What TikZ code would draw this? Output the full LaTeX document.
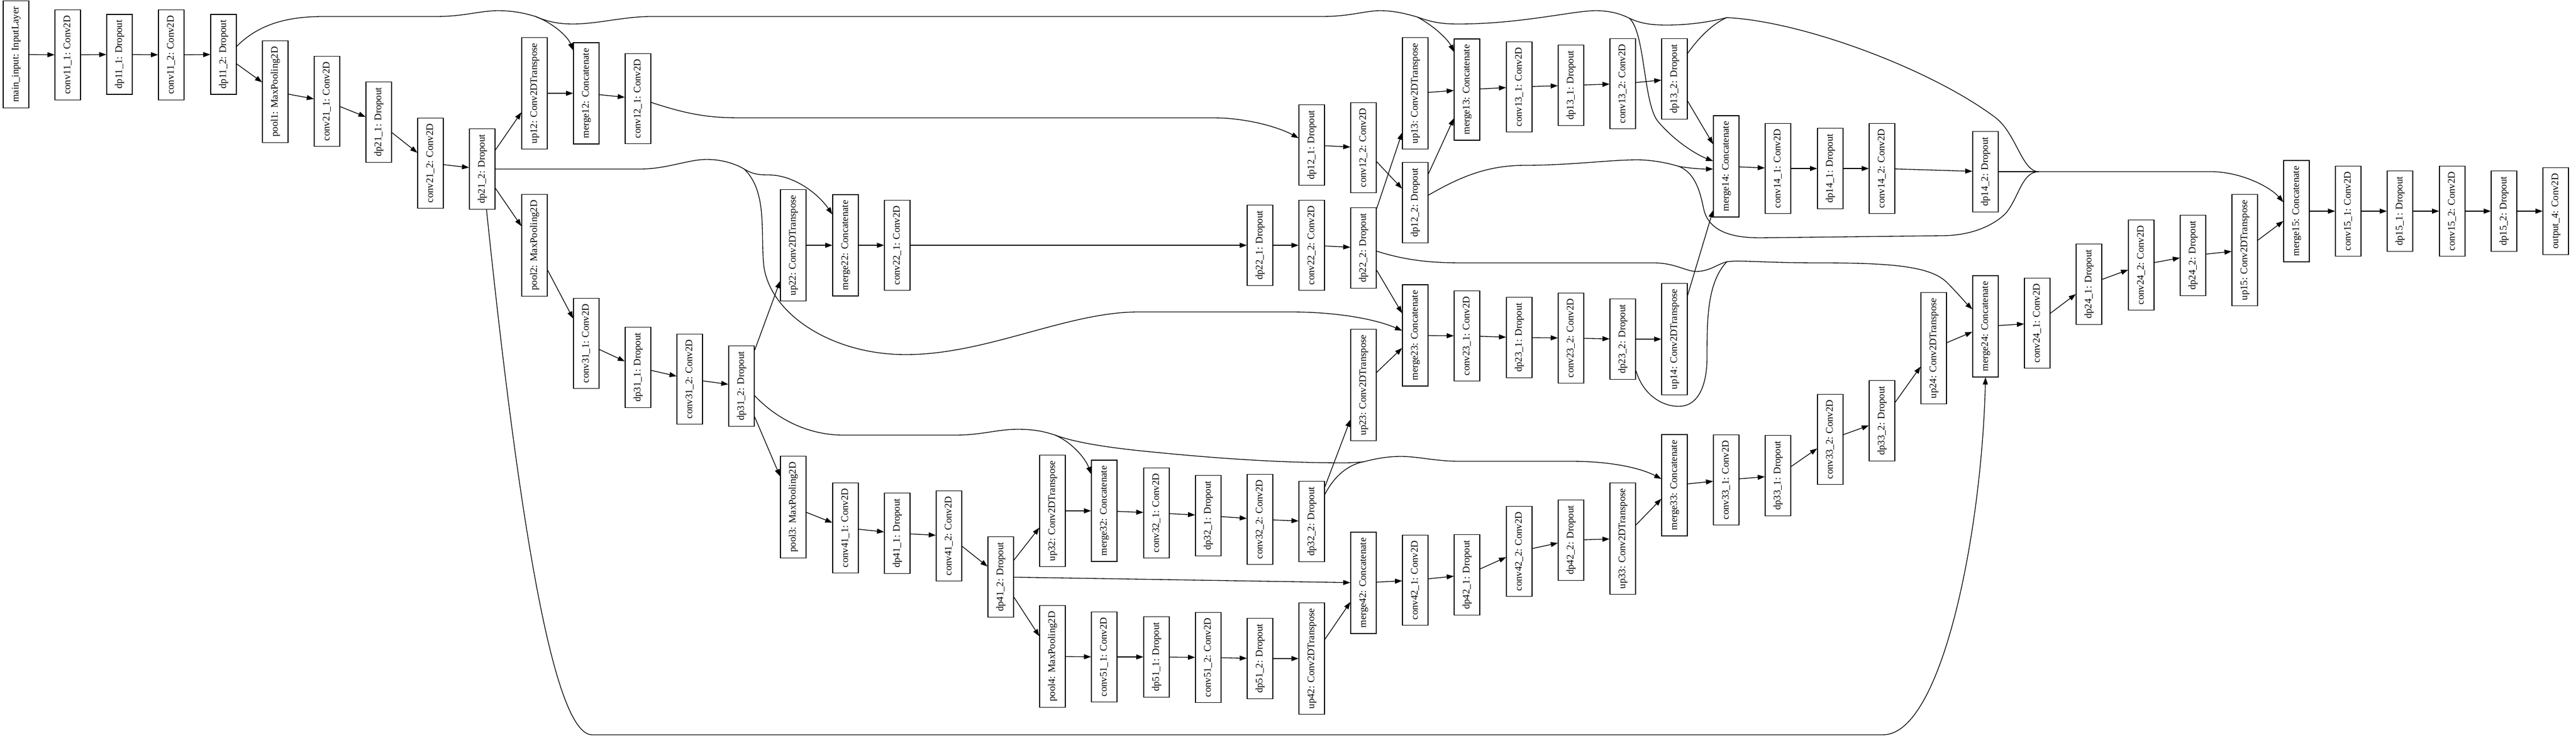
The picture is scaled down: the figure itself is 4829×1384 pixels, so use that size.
\documentclass[tikz,border=0pt]{standalone}
\usepackage{fontspec}
\setmainfont{Liberation Serif}
\usepackage{graphicx}
\usetikzlibrary{calc}
\usetikzlibrary{arrows.meta}
\newcommand{\vt}[1]{\rotatebox{90}{\strut #1}}
\tikzset{
	layer/.style={draw, line width=1pt, minimum width=36pt, inner xsep=0pt, inner ysep=8pt, font=\fontsize{14}{17}\selectfont},
	flow/.style={line width=1pt, -{Triangle[length=10pt,width=7pt]}},
	trunk/.style={line width=1pt},
}

\begin{document}
\begin{tikzpicture}[x=0.75pt,y=-0.75pt]
		\useasboundingbox (0,0) rectangle (4829,1384);
		\node[layer] (main_input) at (30,102) {\vt{main\_input: InputLayer}};
		\node[layer] (conv11_1) at (127,103) {\vt{conv11\_1: Conv2D}};
		\node[layer] (dp11_1) at (224,102) {\vt{dp11\_1: Dropout}};
		\node[layer] (conv11_2) at (321,103) {\vt{conv11\_2: Conv2D}};
		\node[layer] (dp11_2) at (419,102) {\vt{dp11\_2: Dropout}};
		\node[layer] (pool1) at (516,172) {\vt{pool1: MaxPooling2D}};
		\node[layer] (conv21_1) at (613,190) {\vt{conv21\_1: Conv2D}};
		\node[layer] (dp21_1) at (710,229) {\vt{dp21\_1: Dropout}};
		\node[layer] (conv21_2) at (807,306) {\vt{conv21\_2: Conv2D}};
		\node[layer] (dp21_2) at (904,317) {\vt{dp21\_2: Dropout}};
		\node[layer] (up12) at (1002,175) {\vt{up12: Conv2DTranspose}};
		\node[layer] (pool2) at (1002,460) {\vt{pool2: MaxPooling2D}};
		\node[layer] (merge12) at (1099,175) {\vt{merge12: Concatenate}};
		\node[layer] (conv31_1) at (1099,644) {\vt{conv31\_1: Conv2D}};
		\node[layer] (conv12_1) at (1196,185) {\vt{conv12\_1: Conv2D}};
		\node[layer] (dp31_1) at (1196,689) {\vt{dp31\_1: Dropout}};
		\node[layer] (conv31_2) at (1293,711) {\vt{conv31\_2: Conv2D}};
		\node[layer] (dp31_2) at (1390,724) {\vt{dp31\_2: Dropout}};
		\node[layer] (up22) at (1487,460) {\vt{up22: Conv2DTranspose}};
		\node[layer] (pool3) at (1487,951) {\vt{pool3: MaxPooling2D}};
		\node[layer] (merge22) at (1585,460) {\vt{merge22: Concatenate}};
		\node[layer] (conv41_1) at (1585,990) {\vt{conv41\_1: Conv2D}};
		\node[layer] (conv22_1) at (1682,460) {\vt{conv22\_1: Conv2D}};
		\node[layer] (dp41_1) at (1682,1000) {\vt{dp41\_1: Dropout}};
		\node[layer] (conv41_2) at (1779,1005) {\vt{conv41\_2: Conv2D}};
		\node[layer] (dp41_2) at (1876,1082) {\vt{dp41\_2: Dropout}};
		\node[layer] (up32) at (1973,958) {\vt{up32: Conv2DTranspose}};
		\node[layer] (pool4) at (1973,1231) {\vt{pool4: MaxPooling2D}};
		\node[layer] (merge32) at (2070,958) {\vt{merge32: Concatenate}};
		\node[layer] (conv51_1) at (2070,1232) {\vt{conv51\_1: Conv2D}};
		\node[layer] (conv32_1) at (2168,962) {\vt{conv32\_1: Conv2D}};
		\node[layer] (dp51_1) at (2168,1232) {\vt{dp51\_1: Dropout}};
		\node[layer] (dp32_1) at (2265,967) {\vt{dp32\_1: Dropout}};
		\node[layer] (conv51_2) at (2265,1233) {\vt{conv51\_2: Conv2D}};
		\node[layer] (conv32_2) at (2362,974) {\vt{conv32\_2: Conv2D}};
		\node[layer] (dp22_1) at (2362,460) {\vt{dp22\_1: Dropout}};
		\node[layer] (dp51_2) at (2362,1235) {\vt{dp51\_2: Dropout}};
		\node[layer] (dp12_1) at (2459,272) {\vt{dp12\_1: Dropout}};
		\node[layer] (conv22_2) at (2459,460) {\vt{conv22\_2: Conv2D}};
		\node[layer] (dp32_2) at (2459,978) {\vt{dp32\_2: Dropout}};
		\node[layer] (up42) at (2459,1235) {\vt{up42: Conv2DTranspose}};
		\node[layer] (conv12_2) at (2556,277) {\vt{conv12\_2: Conv2D}};
		\node[layer] (dp22_2) at (2556,465) {\vt{dp22\_2: Dropout}};
		\node[layer] (up23) at (2556,722) {\vt{up23: Conv2DTranspose}};
		\node[layer] (merge42) at (2556,1093) {\vt{merge42: Concatenate}};
		\node[layer] (up13) at (2653,175) {\vt{up13: Conv2DTranspose}};
		\node[layer] (dp12_2) at (2653,380) {\vt{dp12\_2: Dropout}};
		\node[layer] (merge23) at (2653,629) {\vt{merge23: Concatenate}};
		\node[layer] (conv42_1) at (2653,1088) {\vt{conv42\_1: Conv2D}};
		\node[layer] (merge13) at (2750,168) {\vt{merge13: Concatenate}};
		\node[layer] (conv23_1) at (2750,630) {\vt{conv23\_1: Conv2D}};
		\node[layer] (dp42_1) at (2750,1078) {\vt{dp42\_1: Dropout}};
		\node[layer] (conv13_1) at (2848,163) {\vt{conv13\_1: Conv2D}};
		\node[layer] (dp23_1) at (2848,633) {\vt{dp23\_1: Dropout}};
		\node[layer] (conv42_2) at (2848,1034) {\vt{conv42\_2: Conv2D}};
		\node[layer] (dp13_1) at (2945,160) {\vt{dp13\_1: Dropout}};
		\node[layer] (conv23_2) at (2945,634) {\vt{conv23\_2: Conv2D}};
		\node[layer] (dp42_2) at (2945,1013) {\vt{dp42\_2: Dropout}};
		\node[layer] (conv13_2) at (3042,157) {\vt{conv13\_2: Conv2D}};
		\node[layer] (dp23_2) at (3042,636) {\vt{dp23\_2: Dropout}};
		\node[layer] (up33) at (3042,1010) {\vt{up33: Conv2DTranspose}};
		\node[layer] (dp13_2) at (3139,148) {\vt{dp13\_2: Dropout}};
		\node[layer] (up14) at (3139,636) {\vt{up14: Conv2DTranspose}};
		\node[layer] (merge33) at (3139,910) {\vt{merge33: Concatenate}};
		\node[layer] (merge14) at (3236,312) {\vt{merge14: Concatenate}};
		\node[layer] (conv33_1) at (3236,900) {\vt{conv33\_1: Conv2D}};
		\node[layer] (conv14_1) at (3333,316) {\vt{conv14\_1: Conv2D}};
		\node[layer] (dp33_1) at (3333,892) {\vt{dp33\_1: Dropout}};
		\node[layer] (dp14_1) at (3431,316) {\vt{dp14\_1: Dropout}};
		\node[layer] (conv33_2) at (3431,824) {\vt{conv33\_2: Conv2D}};
		\node[layer] (conv14_2) at (3528,316) {\vt{conv14\_2: Conv2D}};
		\node[layer] (dp33_2) at (3528,789) {\vt{dp33\_2: Dropout}};
		\node[layer] (up24) at (3625,653) {\vt{up24: Conv2DTranspose}};
		\node[layer] (dp14_2) at (3722,322) {\vt{dp14\_2: Dropout}};
		\node[layer] (merge24) at (3722,612) {\vt{merge24: Concatenate}};
		\node[layer] (conv24_1) at (3819,606) {\vt{conv24\_1: Conv2D}};
		\node[layer] (dp24_1) at (3916,533) {\vt{dp24\_1: Dropout}};
		\node[layer] (conv24_2) at (4014,497) {\vt{conv24\_2: Conv2D}};
		\node[layer] (dp24_2) at (4111,479) {\vt{dp24\_2: Dropout}};
		\node[layer] (up15) at (4208,469) {\vt{up15: Conv2DTranspose}};
		\node[layer] (merge15) at (4305,396) {\vt{merge15: Concatenate}};
		\node[layer] (conv15_1) at (4402,396) {\vt{conv15\_1: Conv2D}};
		\node[layer] (dp15_1) at (4499,396) {\vt{dp15\_1: Dropout}};
		\node[layer] (conv15_2) at (4597,396) {\vt{conv15\_2: Conv2D}};
		\node[layer] (dp15_2) at (4694,396) {\vt{dp15\_2: Dropout}};
		\node[layer] (output_4) at (4791,396) {\vt{output\_4: Conv2D}};
		\draw[flow] (main_input) -- (conv11_1);
		\draw[flow] (conv11_1) -- (dp11_1);
		\draw[flow] (dp11_1) -- (conv11_2);
		\draw[flow] (conv11_2) -- (dp11_2);
		\draw[flow] (dp11_2) -- (pool1);
		\draw[flow] (pool1) -- (conv21_1);
		\draw[flow] (conv21_1) -- (dp21_1);
		\draw[flow] (dp21_1) -- (conv21_2);
		\draw[flow] (conv21_2) -- (dp21_2);
		\draw[flow] (dp21_2) -- (up12);
		\draw[flow] (dp21_2) -- (pool2);
		\draw[flow] (up12) -- (merge12);
		\draw[flow] (merge12) -- (conv12_1);
		\draw[flow] (pool2) -- (conv31_1);
		\draw[flow] (conv31_1) -- (dp31_1);
		\draw[flow] (dp31_1) -- (conv31_2);
		\draw[flow] (conv31_2) -- (dp31_2);
		\draw[flow] (dp31_2) -- (up22);
		\draw[flow] (dp31_2) -- (pool3);
		\draw[flow] (up22) -- (merge22);
		\draw[flow] (merge22) -- (conv22_1);
		\draw[flow] (conv22_1) -- (dp22_1);
		\draw[flow] (dp22_1) -- (conv22_2);
		\draw[flow] (conv22_2) -- (dp22_2);
		\draw[flow] (pool3) -- (conv41_1);
		\draw[flow] (conv41_1) -- (dp41_1);
		\draw[flow] (dp41_1) -- (conv41_2);
		\draw[flow] (conv41_2) -- (dp41_2);
		\draw[flow] (dp41_2) -- (up32);
		\draw[flow] (dp41_2) -- (pool4);
		\draw[flow] (dp41_2) -- (merge42);
		\draw[flow] (up32) -- (merge32);
		\draw[flow] (merge32) -- (conv32_1);
		\draw[flow] (conv32_1) -- (dp32_1);
		\draw[flow] (dp32_1) -- (conv32_2);
		\draw[flow] (conv32_2) -- (dp32_2);
		\draw[flow] (pool4) -- (conv51_1);
		\draw[flow] (conv51_1) -- (dp51_1);
		\draw[flow] (dp51_1) -- (conv51_2);
		\draw[flow] (conv51_2) -- (dp51_2);
		\draw[flow] (dp51_2) -- (up42);
		\draw[flow] (dp12_1) -- (conv12_2);
		\draw[flow] (conv12_2) -- (dp12_2);
		\draw[flow] (dp22_2) -- (up13);
		\draw[flow] (dp22_2) -- (merge23);
		\draw[flow] (dp32_2) -- (up23);
		\draw[flow] (up13) -- (merge13);
		\draw[flow] (dp12_2) -- (merge13);
		\draw[flow] (merge13) -- (conv13_1);
		\draw[flow] (conv13_1) -- (dp13_1);
		\draw[flow] (dp13_1) -- (conv13_2);
		\draw[flow] (conv13_2) -- (dp13_2);
		\draw[flow] (up23) -- (merge23);
		\draw[flow] (merge23) -- (conv23_1);
		\draw[flow] (conv23_1) -- (dp23_1);
		\draw[flow] (dp23_1) -- (conv23_2);
		\draw[flow] (conv23_2) -- (dp23_2);
		\draw[flow] (dp23_2) -- (up14);
		\draw[flow] (up14) -- (merge14);
		\draw[flow] (dp13_2) -- (merge14);
		\draw[flow] (merge14) -- (conv14_1);
		\draw[flow] (conv14_1) -- (dp14_1);
		\draw[flow] (dp14_1) -- (conv14_2);
		\draw[flow] (conv14_2) -- (dp14_2);
		\draw[flow] (up42) -- (merge42);
		\draw[flow] (merge42) -- (conv42_1);
		\draw[flow] (conv42_1) -- (dp42_1);
		\draw[flow] (dp42_1) -- (conv42_2);
		\draw[flow] (conv42_2) -- (dp42_2);
		\draw[flow] (dp42_2) -- (up33);
		\draw[flow] (up33) -- (merge33);
		\draw[flow] (merge33) -- (conv33_1);
		\draw[flow] (conv33_1) -- (dp33_1);
		\draw[flow] (dp33_1) -- (conv33_2);
		\draw[flow] (conv33_2) -- (dp33_2);
		\draw[flow] (dp33_2) -- (up24);
		\draw[flow] (up24) -- (merge24);
		\draw[flow] (merge24) -- (conv24_1);
		\draw[flow] (conv24_1) -- (dp24_1);
		\draw[flow] (dp24_1) -- (conv24_2);
		\draw[flow] (conv24_2) -- (dp24_2);
		\draw[flow] (dp24_2) -- (up15);
		\draw[flow] (up15) -- (merge15);
		\draw[flow] (merge15) -- (conv15_1);
		\draw[flow] (conv15_1) -- (dp15_1);
		\draw[flow] (dp15_1) -- (conv15_2);
		\draw[flow] (conv15_2) -- (dp15_2);
		\draw[flow] (dp15_2) -- (output_4);
		% skip connections
		\coordinate (b1) at (1004,31);
		\coordinate (b2) at (2657,32);
		\coordinate (b3) at (3054,34);
		\coordinate (b4) at (3237,33);
		\coordinate (b5) at (3822,322);
		\coordinate (b6) at (3147,312);
		\coordinate (b7) at (1395,317);
		\coordinate (b8) at (3237,491);
		\coordinate (b9) at (1978,816);
		\coordinate (b10) at (2556,866);
		\draw[trunk] ($ (dp11_2.east) + (0,-15) $) .. controls (490,40) and (550,31) .. (607,31) -- (817,31) .. controls (870,31) and (900,20) .. (934,20) .. controls (962,20) and (985,25) .. (b1);
		\draw[flow] (b1) .. controls (1040,45) and (1065,70) .. ($ (merge12.north west) + (0,15) $);
		\draw[trunk] (b1) .. controls (1030,42) and (1050,45) .. (1074,45) .. controls (1120,45) and (1170,31) .. (1220,31) -- (2478,31) .. controls (2530,31) and (2560,20) .. (2587,20) .. controls (2615,20) and (2640,27) .. (b2);
		\draw[flow] (b2) .. controls (2690,50) and (2715,75) .. ($ (merge13.north west) + (0,25) $);
		\draw[trunk] (b2) .. controls (2690,44) and (2710,45) .. (2735,45) .. controls (2850,45) and (2950,20) .. (2991,20) .. controls (3020,20) and (3040,27) .. (b3);
		\draw[flow] (b3) .. controls (3085,60) and (3080,200) .. (3110,230) .. controls (3140,265) and (3180,290) .. ($ (merge14.west) + (0,-10) $);
		\draw[trunk] (b3) .. controls (3075,44) and (3095,47) .. (3124,47) .. controls (3170,47) and (3210,40) .. (b4);
		\draw[trunk] ($ (dp13_2.east) + (0,-48) $) .. controls (3185,70) and (3210,45) .. (b4);
		\draw[trunk] (b4) .. controls (3380,40) and (3620,130) .. (3740,220) .. controls (3780,250) and (3790,322) .. (b5);
		\draw[trunk] ($ (dp12_2.east) + (0,-14) $) .. controls (2740,330) and (2790,310) .. (2860,310) .. controls (2950,310) and (3030,298) .. (3080,300) .. controls (3110,302) and (3130,307) .. (b6);
		\draw[flow] (b6) .. controls (3170,316) and (3190,317) .. ($ (merge14.west) + (0,5) $);
		\draw[trunk] (b6) .. controls (3180,325) and (3188,365) .. (3194,393) .. controls (3205,440) and (3260,446) .. (3300,446) -- (3640,442) .. controls (3700,442) and (3740,420) .. (3760,400) .. controls (3785,370) and (3790,322) .. (b5);
		\draw[trunk] (dp14_2.east) -- (b5);
		\draw[flow] (b5) -- (4145,322) .. controls (4200,322) and (4255,350) .. ($ (merge15.west) + (0,-17) $);
		\draw[flow] ($ (conv12_1.east) + (0,7) $) .. controls (1290,215) and (1330,221) .. (1387,221) -- (2274,221) .. controls (2340,221) and (2400,240) .. ($ (dp12_1.west) + (0,-13) $);
		\draw[trunk] (dp21_2.east) -- (1200,317) .. controls (1250,317) and (1290,299) .. (1325,299) .. controls (1355,299) and (1380,308) .. (b7);
		\draw[flow] (b7) .. controls (1410,326) and (1420,328) .. (1440,328) .. controls (1490,328) and (1535,365) .. ($ (merge22.west) + (0,-58) $);
		\draw[flow] (b7) .. controls (1440,360) and (1425,440) .. (1432,500) .. controls (1445,590) and (1560,665) .. (1698,665) .. controls (1850,665) and (2000,585) .. (2134,585) -- (2420,585) .. controls (2500,585) and (2575,597) .. ($ (merge23.west) + (0,-9) $);
		\draw[flow] ($ (dp21_2.south) + (8,0) $) .. controls (975,1000) and (1040,1378) .. (1110,1378) -- (3530,1378) .. controls (3640,1378) and (3715,1000) .. (merge24.south);
		\draw[trunk] ($ (dp22_2.east) + (0,6) $) .. controls (2640,490) and (2690,493) .. (2742,493) -- (3100,493) .. controls (3140,493) and (3160,509) .. (3180,509) .. controls (3205,509) and (3220,495) .. (b8);
		\draw[trunk] ($ (dp23_2.east) + (0,59) $) .. controls (3080,740) and (3115,762) .. (3147,762) .. controls (3185,762) and (3200,720) .. (3200,670) .. controls (3200,600) and (3200,530) .. (b8);
		\draw[flow] (b8) .. controls (3260,487) and (3300,493) .. (3412,493) .. controls (3550,493) and (3620,500) .. (3650,530) .. controls (3670,550) and (3685,568) .. ($ (merge24.west) + (0,-32) $);
		\draw[trunk] ($ (dp31_2.east) + (0,18) $) .. controls (1460,790) and (1520,816) .. (1581,816) -- (1791,816) .. controls (1840,816) and (1870,805) .. (1908,805) .. controls (1940,805) and (1960,810) .. (b9);
		\draw[flow] (b9) .. controls (2010,830) and (2035,860) .. ($ (merge32.west) + (0,-69) $);
		\draw[trunk] (b9) .. controls (2000,824) and (2040,835) .. (2134,845) .. controls (2280,860) and (2400,868) .. (2520,868) .. controls (2535,868) and (2545,867) .. (b10);
		\draw[trunk] ($ (dp32_2.east) + (0,-51) $) .. controls (2500,895) and (2525,872) .. (b10);
		\draw[flow] (b10) .. controls (2580,860) and (2600,856) .. (2626,856) .. controls (2660,856) and (2690,865) .. (2735,865) -- (2945,865) .. controls (3010,865) and (3070,875) .. ($ (merge33.west) + (0,-12) $);
	\end{tikzpicture}
\end{document}
